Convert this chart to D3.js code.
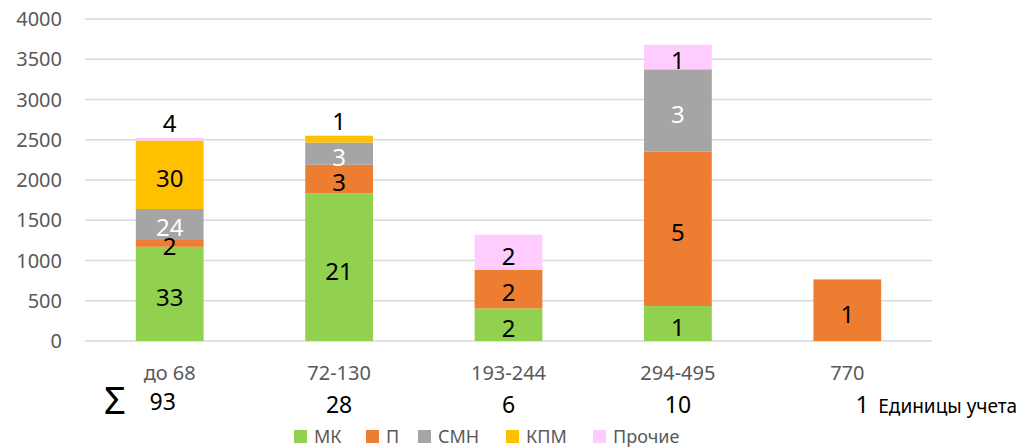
<!DOCTYPE html>
<head>
  <meta charset="utf-8">
  <script src="https://d3js.org/d3.v7.min.js"></script>
  <style>
    body { margin:0; background:#fff; }
    text { font-family: "Noto Sans", sans-serif; }
  </style>
</head>
<body>
  <script>
    // categories and series
    var categories = ["до 68", "72-130", "193-244", "294-495", "770"];
    var seriesNames = ["МК", "П", "СМН", "КПМ", "Прочие"];
    var seriesColors = ["#92d050", "#ed7d31", "#a5a5a5", "#ffc000", "#ffccff"];
    var valMK     = [1170, 1835, 405, 435, 0];
    var valP      = [95, 355, 480, 1920, 765];
    var valSMN    = [375, 275, 0, 1020, 0];
    var valKPM    = [850, 85, 0, 0, 0];
    var valOther  = [35, 0, 435, 305, 0];
    // labels shown on segments (counts)
    var cntMK    = [33, 21, 2, 1, null];
    var cntP     = [2, 3, 2, 5, 1];
    var cntSMN   = [24, 3, null, 3, null];
    var cntKPM   = [30, 1, null, null, null];
    var cntOther = [4, null, 2, 1, null];
    var totals = [93, 28, 6, 10, 1];
    var yTicks = [0, 500, 1000, 1500, 2000, 2500, 3000, 3500, 4000];

    var width = 1027, height = 448;
    var margin = {left: 85, right: 95, top: 19, bottom: 107};

    var svg = d3.select("body").append("svg")
      .attr("width", width).attr("height", height);

    var x = d3.scaleBand().domain(categories)
      .range([margin.left, width - margin.right])
      .paddingInner(0.6).paddingOuter(0.3);

    var y = d3.scaleLinear().domain([0, 4000])
      .range([height - margin.bottom, margin.top]);

    // grid
    svg.append("g").selectAll("line").data(yTicks).enter().append("line")
      .attr("x1", margin.left).attr("x2", width - margin.right)
      .attr("y1", d => y(d)).attr("y2", d => y(d))
      .attr("stroke", "#d9d9d9").attr("stroke-width", 1.5);

    // y axis labels
    svg.append("g").selectAll("text").data(yTicks).enter().append("text")
      .attr("x", 62).attr("y", d => y(d)).attr("dy", "0.35em")
      .attr("text-anchor", "end").attr("fill", "#595959")
      .style("font-size", "20px").text(d => d);

    var vals = [valMK, valP, valSMN, valKPM, valOther];
    var cnts = [cntMK, cntP, cntSMN, cntKPM, cntOther];
    var rows = categories.map(function(c, i) {
      var r = {cat: c};
      seriesNames.forEach(function(s, k) { r[s] = vals[k][i]; });
      return r;
    });
    var stacked = d3.stack().keys(seriesNames)(rows);

    var layers = svg.append("g").selectAll("g").data(stacked).enter().append("g")
      .attr("fill", (d, k) => seriesColors[k]);

    layers.selectAll("rect").data(d => d).enter().append("rect")
      .filter(d => d[1] > d[0])
      .attr("x", d => x(d.data.cat))
      .attr("width", x.bandwidth())
      .attr("y", d => y(d[1]))
      .attr("height", d => y(d[0]) - y(d[1]));

    // segment labels
    var labelG = svg.append("g");
    stacked.forEach(function(layer, k) {
      layer.forEach(function(d, i) {
        var c = cnts[k][i];
        if (c == null) return;
        var h = y(d[0]) - y(d[1]);
        var cx = x(d.data.cat) + x.bandwidth() / 2;
        var isTop = stacked.slice(k + 1).every(l => l[i][1] === l[i][0]);
        var lbl = labelG.append("text")
          .attr("x", cx)
          .attr("text-anchor", "middle")
          .attr("fill", k === 2 ? "#fff" : "#000")
          .style("font-size", "24px").text(c);
        if (isTop && h < 12) {
          lbl.attr("y", y(d[1]) - 6);
        } else {
          lbl.attr("y", (y(d[0]) + y(d[1])) / 2 + 4).attr("dy", "0.35em");
        }
      });
    });

    // category labels
    svg.append("g").selectAll("text").data(categories).enter().append("text")
      .attr("x", d => x(d) + x.bandwidth() / 2).attr("y", 380)
      .attr("text-anchor", "middle").attr("fill", "#595959")
      .style("font-size", "20px").text(d => d);

    // totals row
    svg.append("text").attr("x", 104).attr("y", 414)
      .attr("fill", "#000").style("font-size", "38px").text("Σ");
    svg.append("g").selectAll("text").data(totals).enter().append("text")
      .attr("x", (d, i) => x(categories[i]) + x.bandwidth() / 2 + (i === 0 ? -7 : 0) + (i === totals.length - 1 ? 15 : 0))
      .attr("y", (d, i) => i === 0 ? 410 : 413)
      .attr("text-anchor", "middle").attr("fill", "#000")
      .style("font-size", "23px").text(d => d);
    svg.append("text")
      .attr("x", x(categories[4]) + x.bandwidth() / 2 + 31).attr("y", 413)
      .attr("fill", "#000").style("font-size", "19px").text("Единицы учета");

    // legend
    var legX = [294, 366, 418, 506, 593];
    var leg = svg.append("g").selectAll("g").data(seriesNames).enter().append("g")
      .attr("transform", (d, i) => "translate(" + legX[i] + ",430)");
    leg.append("rect").attr("width", 13).attr("height", 13)
      .attr("fill", (d, i) => seriesColors[i]);
    leg.append("text").attr("x", 20).attr("y", 13)
      .attr("fill", "#595959").style("font-size", "18px").text(d => d);
  </script>
</body>
